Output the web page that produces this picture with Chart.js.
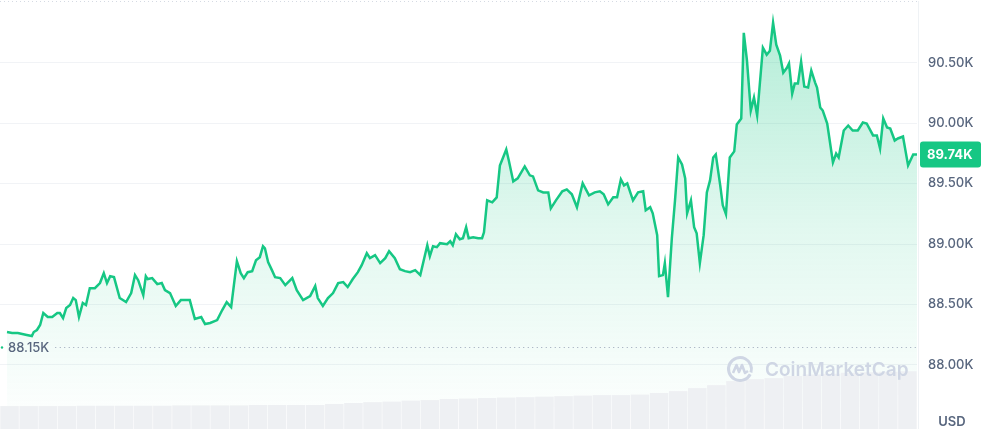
<!DOCTYPE html>
<html>
<head>
<meta charset="utf-8">
<script src="https://cdn.jsdelivr.net/npm/chart.js@4.4.1/dist/chart.umd.min.js"></script>
<style>
  html, body { margin: 0; padding: 0; background: #ffffff; }
  #wrap { width: 986px; height: 435px; position: relative; }
</style>
</head>
<body>
<div id="wrap"><canvas id="priceChart"></canvas></div>
<script>
// minutes since start of the 24h window
const times = [11, 19, 28, 35, 42, 50, 53, 58, 63, 68, 75, 82, 90, 94, 99, 104, 110, 115, 119, 124,
  130, 135, 141, 149, 157, 163, 168, 173, 179, 188, 198, 206, 212, 217, 225, 229, 232, 239, 247, 254,
  259, 267, 276, 284, 298, 306, 316, 322, 330, 341, 349, 356, 363, 372, 378, 383, 389, 396, 402, 408,
  413, 416, 421, 427, 432, 440, 448, 459, 466, 476, 487, 495, 499, 507, 515, 523, 531, 539, 546, 554,
  562, 568, 576, 581, 589, 597, 605, 611, 620, 628, 636, 644, 652, 660, 671, 675, 680, 686, 691, 702,
  707, 711, 716, 722, 727, 732, 736, 743, 751, 757, 760, 765, 773, 780, 785, 795, 799, 806, 813, 824,
  832, 837, 845, 853, 861, 865, 873, 883, 890, 898, 906, 915, 925, 934, 942, 948, 955, 963, 969, 975,
  980, 985, 994, 1002, 1010, 1014, 1021, 1025, 1032, 1035, 1041, 1044, 1049, 1055, 1060, 1065, 1071, 1076, 1079, 1085,
  1090, 1094, 1099, 1105, 1110, 1115, 1120, 1124, 1131, 1135, 1140, 1146, 1153, 1157, 1164, 1168, 1173, 1179, 1184, 1189,
  1198, 1204, 1209, 1214, 1219, 1225, 1230, 1236, 1239, 1244, 1248, 1253, 1258, 1263, 1269, 1274, 1280, 1283, 1288, 1292,
  1299, 1308, 1313, 1317, 1325, 1332, 1339, 1347, 1355, 1361, 1371, 1377, 1382, 1387, 1393, 1398, 1405, 1410, 1418, 1426,
  1434, 1440];

// BTC price in USD
const prices = [88272, 88264, 88264, 88256, 88248, 88239, 88272, 88289, 88330, 88429, 88396, 88396, 88429, 88429, 88388, 88470, 88495, 88553, 88536, 88396,
  88512, 88495, 88635, 88635, 88677, 88759, 88677, 88734, 88726, 88553, 88520, 88594, 88743, 88701, 88578, 88734, 88710, 88718, 88668, 88677,
  88619, 88594, 88487, 88536, 88536, 88380, 88396, 88338, 88347, 88371, 88454, 88520, 88479, 88858, 88759, 88718, 88767, 88776, 88866, 88891,
  88982, 88965, 88850, 88784, 88726, 88718, 88660, 88718, 88619, 88536, 88569, 88652, 88553, 88487, 88553, 88594, 88677, 88685, 88644, 88710,
  88767, 88825, 88924, 88883, 88908, 88842, 88883, 88941, 88883, 88792, 88776, 88767, 88784, 88743, 88990, 88899, 88982, 88974, 89007, 88998,
  89023, 88990, 89081, 89040, 89048, 89139, 89048, 89056, 89048, 89048, 89097, 89361, 89345, 89386, 89650, 89782, 89691, 89518, 89543, 89642,
  89568, 89559, 89444, 89427, 89427, 89295, 89361, 89436, 89452, 89411, 89304, 89502, 89403, 89427, 89436, 89411, 89328, 89386, 89386, 89535,
  89485, 89502, 89361, 89427, 89436, 89279, 89304, 89254, 89073, 88734, 88743, 88842, 88561, 89048, 89361, 89716, 89658, 89543, 89254, 89361,
  89139, 89089, 88842, 89073, 89427, 89526, 89716, 89741, 89485, 89320, 89246, 89716, 89766, 89988, 90038, 90747, 90516, 90104, 90211, 90063,
  90624, 90566, 90599, 90830, 90648, 90558, 90417, 90459, 90492, 90244, 90327, 90327, 90508, 90302, 90294, 90434, 90335, 90294, 90129, 90104,
  89997, 89675, 89749, 89716, 89939, 89980, 89939, 89939, 90005, 89997, 89898, 89898, 89790, 90038, 89964, 89955, 89856, 89873, 89889, 89650,
  89741, 89740];

// volume bars, one every 30 minutes (billions USD)
const volTimes = [15, 45, 75, 105, 135, 165, 195, 225, 255, 285, 315, 345, 375, 405, 435, 465, 495, 525, 555, 585,
  615, 645, 675, 705, 735, 765, 795, 825, 855, 885, 915, 945, 975, 1005, 1035, 1065, 1095, 1125, 1155, 1185,
  1215, 1245, 1275, 1305, 1335, 1365, 1395, 1425];
const volumes = [13.4, 13.4, 13.4, 13.4, 13.6, 13.6, 13.6, 13.6, 13.6, 13.8, 13.8, 13.8, 13.8, 14.0, 14.0, 14.0, 14.0, 14.6, 15.2, 15.7,
  16.0, 16.6, 16.9, 17.5, 17.8, 18.1, 18.4, 18.6, 18.9, 19.2, 19.5, 19.8, 19.8, 20.1, 21.0, 22.1, 23.9, 25.6, 28.0, 29.1,
  29.7, 30.9, 31.8, 32.3, 32.9, 33.2, 33.5, 33.8];

const yTicks = [88000, 88500, 89000, 89500, 90000, 90500];
const openPrice = 88150;
const openLabel = '88.15K';
const lastLabel = '89.74K';
const currency = 'USD';
const brand = 'CoinMarketCap';

const green = '#16c784';
const labelColor = '#58667e';

function fmtK(v){
    return (v / 1000).toFixed(2) + 'K';
}

// extra bits: open price dotted line, watermark, price badge, USD
const extras = {
    id: 'extras',
    beforeDatasetsDraw(chart){
        const ctx = chart.ctx;
        const area = chart.chartArea;
        ctx.save();
        // dotted top border
        ctx.strokeStyle = '#d5dae3';
        ctx.lineWidth = 1;
        ctx.setLineDash([1, 3]);
        ctx.beginPath();
        ctx.moveTo(area.left, area.top + 0.5);
        ctx.lineTo(area.right, area.top + 0.5);
        ctx.stroke();
        ctx.setLineDash([]);
        // right border of the plot
        ctx.strokeStyle = '#eff2f5';
        ctx.beginPath();
        ctx.moveTo(area.right + 1.5, area.top);
        ctx.lineTo(area.right + 1.5, area.bottom);
        ctx.stroke();
        ctx.restore();
    },
    afterDatasetsDraw(chart){
        const ctx = chart.ctx;
        const area = chart.chartArea;
        const y = chart.scales.y;
        ctx.save();
        // open price line
        let oy = Math.round(y.getPixelForValue(openPrice)) + 0.5;
        ctx.font = '500 13px Inter';
        ctx.fillStyle = labelColor;
        ctx.textBaseline = 'middle';
        ctx.textAlign = 'left';
        ctx.fillText(openLabel, area.left + 8, oy + 1);
        let tw = ctx.measureText(openLabel).width;
        ctx.strokeStyle = '#9aa5b8';
        ctx.lineWidth = 1;
        ctx.setLineDash([1, 3.5]);
        ctx.beginPath();
        ctx.moveTo(area.left + 14 + tw, oy);
        ctx.lineTo(area.right, oy);
        ctx.stroke();
        ctx.setLineDash([]);
        ctx.fillStyle = green;
        ctx.beginPath();
        ctx.arc(area.left + 2, oy, 1.2, 0, Math.PI * 2);
        ctx.fill();

        // watermark
        const wx = 740, wy = 369;
        ctx.strokeStyle = '#cfd6e4';
        ctx.lineWidth = 3;
        ctx.beginPath();
        ctx.arc(wx, wy, 11.5, 0.15 * Math.PI, 2.1 * Math.PI);
        ctx.stroke();
        ctx.lineWidth = 2.6;
        ctx.lineJoin = 'round';
        ctx.beginPath();
        ctx.moveTo(wx - 7, wy + 4);
        ctx.lineTo(wx - 3.5, wy - 4);
        ctx.lineTo(wx - 1, wy + 3);
        ctx.lineTo(wx + 2, wy - 4);
        ctx.lineTo(wx + 5, wy + 4);
        ctx.lineTo(wx + 8, wy + 2);
        ctx.stroke();
        ctx.fillStyle = '#cfd6e4';
        ctx.font = '600 19px Inter';
        ctx.textBaseline = 'middle';
        ctx.fillText(brand, wx + 25, wy + 1);
        ctx.restore();
    },
    afterDraw(chart){
        const ctx = chart.ctx;
        const area = chart.chartArea;
        const y = chart.scales.y;
        ctx.save();
        let ly = y.getPixelForValue(prices[prices.length - 1]);
        ctx.fillStyle = green;
        ctx.beginPath();
        ctx.roundRect(area.right + 3, ly - 13, 61, 26, 3);
        ctx.fill();
        ctx.fillStyle = '#ffffff';
        ctx.font = '700 13px Inter';
        ctx.textBaseline = 'middle';
        ctx.textAlign = 'left';
        ctx.fillText(lastLabel, area.right + 10, ly + 1);
        // currency under the axis
        ctx.fillStyle = labelColor;
        ctx.font = '600 13px Inter';
        ctx.textAlign = 'center';
        ctx.fillText(currency, 952, 422);
        ctx.restore();
    }
};

var ctx = document.getElementById('priceChart').getContext('2d');
var myChart = new Chart(ctx, {
    type: 'line',
    data: {
        datasets: [
            {
                type: 'bar',
                data: volTimes.map((t, i) => ({x: t, y: volumes[i]})),
                yAxisID: 'yv',
                backgroundColor: '#eef0f3',
                borderWidth: 0,
                barPercentage: 1,
                categoryPercentage: 0.97,
                order: 0
            },
            {
                data: times.map((t, i) => ({x: t, y: prices[i]})),
                yAxisID: 'y',
                borderColor: green,
                borderWidth: 2.5,
                pointRadius: 0,
                tension: 0,
                fill: 'start',
                backgroundColor: function(c){
                    const area = c.chart.chartArea;
                    if (!area) return 'rgba(22,199,132,0.15)';
                    let g = c.chart.ctx.createLinearGradient(0, area.top + 20, 0, area.bottom);
                    g.addColorStop(0, 'rgba(22,199,132,0.32)');
                    g.addColorStop(0.5, 'rgba(22,199,132,0.13)');
                    g.addColorStop(1, 'rgba(22,199,132,0.0)');
                    return g;
                },
                order: 1
            }
        ]
    },
    options: {
        responsive: true,
        maintainAspectRatio: false,
        animation: false,
        layout: { padding: { top: 1, bottom: 6, left: 0, right: 0 } },
        plugins: {
            legend: { display: false },
            tooltip: { enabled: false }
        },
        scales: {
            x: {
                type: 'linear',
                min: 0,
                max: 1440,
                offset: false,
                display: false
            },
            y: {
                position: 'right',
                min: 87470,
                max: 91010,
                afterBuildTicks: function(scale){
                    scale.ticks = yTicks.map(v => ({value: v}));
                },
                afterFit: function(scale){
                    // no extra room above/below for the end labels
                    scale.width = 69;
                    scale.paddingTop = 0;
                    scale.paddingBottom = 0;
                },
                grid: { color: '#f1f3f6', drawTicks: false },
                border: { display: false },
                ticks: {
                    padding: 11,
                    color: labelColor,
                    font: { family: 'Inter', size: 13, weight: '500' },
                    callback: v => fmtK(v)
                }
            },
            yv: {
                display: false,
                min: 0,
                max: 250
            }
        }
    },
    plugins: [extras]
});
</script>
</body>
</html>
